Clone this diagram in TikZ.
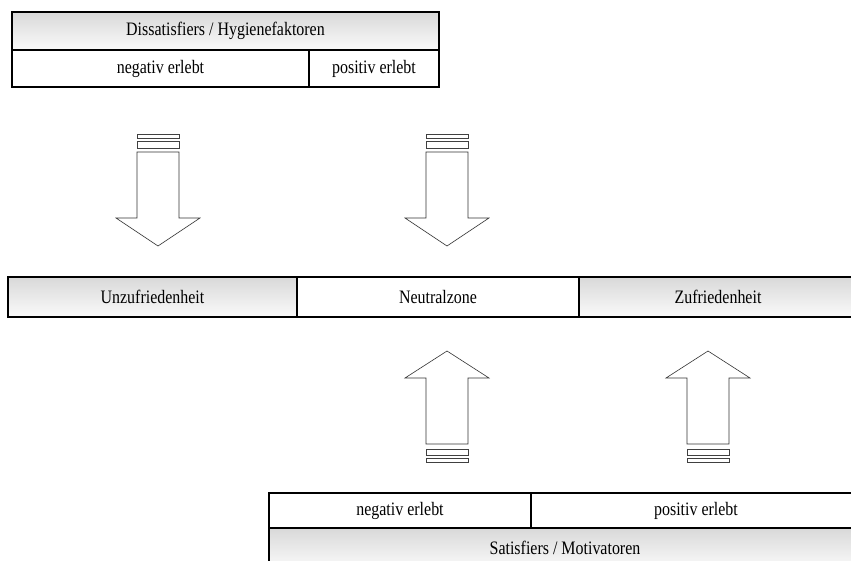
\documentclass[tikz,border=0pt]{standalone}
\usepackage{fontspec}
\setmainfont{Liberation Serif}[FakeStretch=0.84]
\usetikzlibrary{positioning}

\tikzset{
  cell/.style={draw, line width=1.6pt, inner sep=0pt, outer sep=0pt, anchor=north west,
    font=\fontsize{19}{22}\selectfont},
  shadecell/.style={cell, top color=gray!30, bottom color=gray!4},
  blockarrow/.style={draw=black!80, line width=0.6pt, fill=white},
  stripe/.style={draw=black!75, line width=0.6pt, fill=white},
}

\begin{document}
\begin{tikzpicture}[x=1pt, y=-1pt]
  \useasboundingbox (0,0) rectangle (851,561);
  \clip (0,0) rectangle (851,561);

  % Hygienefaktoren (top table)
  \node[shadecell, minimum width=427, minimum height=38] (dis) at (12,12) {Dissatisfiers / Hygienefaktoren};
  \node[cell, minimum width=297, minimum height=37] (disneg) at (dis.south west) {negativ erlebt};
  \node[cell, minimum width=130, minimum height=37] (dispos) at (disneg.north east) {positiv erlebt};

  % arrows going down
  \foreach \cx in {158,447} {
    \draw[stripe] (\cx-21,134) rectangle (\cx+21,138);
    \draw[stripe] (\cx-21,141) rectangle (\cx+21,148);
    \draw[blockarrow] (\cx-21,152) -- (\cx-21,218) -- (\cx-42,218) -- (\cx,246)
      -- (\cx+42,218) -- (\cx+21,218) -- (\cx+21,152) -- cycle;
  }

  % middle scale
  \node[shadecell, minimum width=289, minimum height=40] (unz) at (8,277) {Unzufriedenheit};
  \node[cell, minimum width=282, minimum height=40] (neut) at (unz.north east) {Neutralzone};
  \node[shadecell, minimum width=278, minimum height=40] (zuf) at (neut.north east) {Zufriedenheit};

  % arrows going up
  \foreach \cx in {447,708} {
    \draw[blockarrow] (\cx-21,444) -- (\cx-21,378) -- (\cx-42,378) -- (\cx,351)
      -- (\cx+42,378) -- (\cx+21,378) -- (\cx+21,444) -- cycle;
    \draw[stripe] (\cx-21,449) rectangle (\cx+21,455);
    \draw[stripe] (\cx-21,458) rectangle (\cx+21,462);
  }

  % Motivatoren (bottom table)
  \node[cell, minimum width=262, minimum height=35] (satneg) at (269,493) {negativ erlebt};
  \node[cell, minimum width=330, minimum height=35] (satpos) at (satneg.north east) {positiv erlebt};
  \node[shadecell, minimum width=592, minimum height=40] (sat) at (satneg.south west) {Satisfiers / Motivatoren};
\end{tikzpicture}
\end{document}
